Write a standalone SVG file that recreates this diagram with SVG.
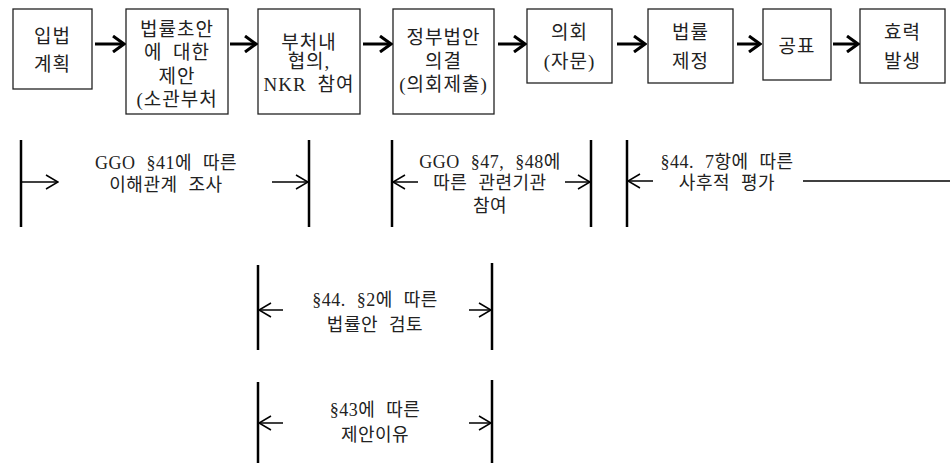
<svg xmlns="http://www.w3.org/2000/svg" width="950" height="465" viewBox="0 0 950 465">
<style>
.box{fill:#fff;stroke:#222;stroke-width:1.3}
.t{font-family:"Liberation Serif","Noto Sans CJK KR",serif;font-size:19px;letter-spacing:1px;word-spacing:5px;fill:#222;text-anchor:middle}
.s{font-family:"Liberation Serif","Noto Sans CJK KR",serif;font-size:18px;letter-spacing:0.5px;word-spacing:6px;fill:#222;text-anchor:middle}
.thick{stroke:#000;stroke-width:3;fill:none}
.thin{stroke:#000;stroke-width:1.5;fill:none}
.bar{stroke:#000;stroke-width:2.5;fill:none}
</style>
<defs>
<marker id="hb" markerUnits="userSpaceOnUse" viewBox="0 0 14 18" refX="12" refY="9" markerWidth="14" markerHeight="18" orient="auto">
<path d="M1,1 L12,9 L1,17" fill="none" stroke="#000" stroke-width="3"/>
</marker>
<marker id="hs" markerUnits="userSpaceOnUse" viewBox="0 0 14 16" refX="13" refY="8" markerWidth="14" markerHeight="16" orient="auto">
<path d="M1,1 L13,8 L1,15" fill="none" stroke="#000" stroke-width="1.5"/>
</marker>
</defs>
<g id="n1"><rect class="box" x="13" y="9" width="79" height="80"/><text class="t" x="52.5" y="43">입법</text><text class="t" x="52.5" y="71">계획</text></g>
<g id="n2"><rect class="box" x="126" y="9" width="102" height="105"/><text class="t" x="177" y="36">법률초안</text><text class="t" x="177" y="59">에 대한</text><text class="t" x="177" y="83">제안</text><text class="t" x="177" y="106">(소관부처</text></g>
<g id="n3"><rect class="box" x="258" y="9" width="102" height="105"/><text class="t" x="309" y="49">부처내</text><text class="t" x="309" y="68">협의,</text><text class="t" x="309" y="91">NKR 참여</text></g>
<g id="n4"><rect class="box" x="393" y="9" width="101" height="105"/><text class="t" x="443.5" y="44">정부법안</text><text class="t" x="443.5" y="68">의결</text><text class="t" x="443.5" y="91">(의회제출)</text></g>
<g id="n5"><rect class="box" x="527" y="9" width="85" height="74"/><text class="t" x="569.5" y="39">의회</text><text class="t" x="569.5" y="68">(자문)</text></g>
<g id="n6"><rect class="box" x="648" y="9" width="85" height="74"/><text class="t" x="690.5" y="39">법률</text><text class="t" x="690.5" y="68">제정</text></g>
<g id="n7"><rect class="box" x="763" y="9" width="68" height="71"/><text class="t" x="797" y="53">공표</text></g>
<g id="n8"><rect class="box" x="860" y="9" width="85" height="74"/><text class="t" x="902.5" y="39">효력</text><text class="t" x="902.5" y="68">발생</text></g>
<g id="connectors">
<line class="thick" x1="95" y1="44" x2="124" y2="44" marker-end="url(#hb)"/>
<line class="thick" x1="230" y1="44" x2="256" y2="44" marker-end="url(#hb)"/>
<line class="thick" x1="363" y1="44" x2="391" y2="44" marker-end="url(#hb)"/>
<line class="thick" x1="498" y1="44" x2="525" y2="44" marker-end="url(#hb)"/>
<line class="thick" x1="617" y1="44" x2="645" y2="44" marker-end="url(#hb)"/>
<line class="thick" x1="737" y1="44" x2="760" y2="44" marker-end="url(#hb)"/>
<line class="thick" x1="833" y1="44" x2="858" y2="44" marker-end="url(#hb)"/>
</g>
<g id="span1"><line class="bar" x1="21" y1="140" x2="21" y2="227"/><line class="bar" x1="309" y1="140" x2="309" y2="227"/><line class="thin" x1="22" y1="182" x2="58" y2="182" marker-end="url(#hs)"/><line class="thin" x1="272" y1="182" x2="308" y2="182" marker-end="url(#hs)"/><text class="s" x="166" y="169">GGO §41에 따른</text><text class="s" x="166" y="191">이해관계 조사</text></g>
<g id="span2"><line class="bar" x1="392" y1="140" x2="392" y2="227"/><line class="bar" x1="591" y1="140" x2="591" y2="227"/><line class="thin" x1="418" y1="182" x2="393" y2="182" marker-end="url(#hs)"/><line class="thin" x1="565" y1="182" x2="590" y2="182" marker-end="url(#hs)"/><text class="s" x="490" y="168">GGO §47, §48에</text><text class="s" x="490" y="189">따른 관련기관</text><text class="s" x="490" y="212">참여</text></g>
<g id="span3"><line class="bar" x1="627" y1="140" x2="627" y2="227"/><line class="thin" x1="653" y1="181" x2="628" y2="181" marker-end="url(#hs)"/><line class="thin" x1="803" y1="181" x2="950" y2="181"/><text class="s" x="727" y="168">§44. 7항에 따른</text><text class="s" x="727" y="189">사후적 평가</text></g>
<g id="span4"><line class="bar" x1="258" y1="265" x2="258" y2="350"/><line class="bar" x1="492" y1="263" x2="492" y2="350"/><line class="thin" x1="283" y1="310" x2="259" y2="310" marker-end="url(#hs)"/><line class="thin" x1="469" y1="310" x2="491" y2="310" marker-end="url(#hs)"/><text class="s" x="375" y="306">§44. §2에 따른</text><text class="s" x="375" y="331">법률안 검토</text></g>
<g id="span5"><line class="bar" x1="258" y1="382" x2="258" y2="463"/><line class="bar" x1="492" y1="380" x2="492" y2="463"/><line class="thin" x1="283" y1="423" x2="259" y2="423" marker-end="url(#hs)"/><line class="thin" x1="469" y1="423" x2="491" y2="423" marker-end="url(#hs)"/><text class="s" x="375" y="416">§43에 따른</text><text class="s" x="375" y="441">제안이유</text></g>
</svg>
